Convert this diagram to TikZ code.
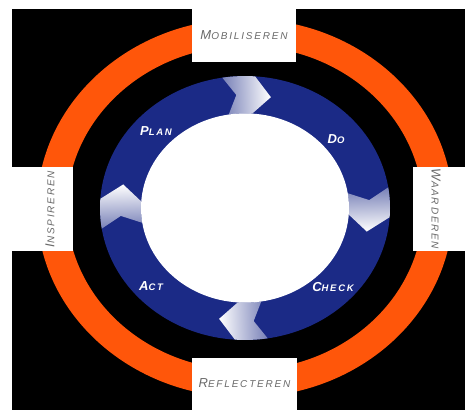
\documentclass[tikz,border=0pt]{standalone}
\usepackage{fontspec}
\setmainfont{Liberation Sans}
\usepackage{tikz}
\usetikzlibrary{positioning}
\definecolor{pdcaBlue}{HTML}{1B2A86}
\definecolor{pdcaOrange}{HTML}{FF560A}
\definecolor{pdcaGrey}{HTML}{6A6A6A}
\newfontfamily\tagfont[LetterSpace=18]{Liberation Sans}
% capital followed by smaller capitals
\newcommand{\capsc}[3][10]{#2{\fontsize{#1}{#1}\selectfont #3}}

\begin{document}
\begin{tikzpicture}[x=1pt, y=1pt,
  tag box/.style={fill=white, draw=none, inner sep=0pt},
  tag text/.style={text=pdcaGrey, font=\tagfont\itshape\fontsize{13}{13}\selectfont, inner sep=0pt},
  phase text/.style={text=white, font=\tagfont\itshape\bfseries\fontsize{13}{13}\selectfont, inner sep=0pt}]

  \useasboundingbox (-245,-202) rectangle (220,208);
  \fill[black] (-233,-202) rectangle (220,199);

  % rings
  \begin{scope}[yscale=0.91]
    \fill[pdcaOrange, even odd rule] (0,0) circle (208) (0,0) circle (178);
    \fill[pdcaBlue] (0,0) circle (145);
    \foreach \c in {92, 2, -88, -178}{
      \shade[top color=white, bottom color=pdcaBlue!60!white, shading angle=\c-180]
        (\c+7:145) -- (\c+2:124.5) -- (\c+7:104)
        arc[start angle=\c+7, end angle=\c-6, radius=104]
        -- (\c-14:124.5) -- (\c-6:145)
        arc[start angle=\c-6, end angle=\c+7, radius=145] -- cycle;
    }
    \fill[white] (0,0) circle (104);
  \end{scope}

  % boxes
  \node[tag box, minimum width=104, minimum height=53] (mobBox) at (-1,172.5) {};
  \node[tag text] (mob) at (mobBox.center) {\capsc{M}{OBILISEREN}};
  \node[tag box, minimum width=61, minimum height=84] (inspBox) at (-202.5,-1) {};
  \node[tag text, rotate=90] (insp) at ([xshift=7.5]inspBox.center) {\capsc{I}{NSPIREREN}};
  \node[tag box, minimum width=52, minimum height=84] (waardBox) at (194,-1) {};
  \node[tag text, rotate=-90] (waard) at ([xshift=-3]waardBox.center) {\capsc{W}{AARDEREN}};
  \node[tag box, minimum width=105, minimum height=52] (reflBox) at (-0.5,-176) {};
  \node[tag text] (refl) at ([yshift=1]reflBox.center) {\capsc{R}{EFLECTEREN}};

  % phases
  \foreach \name/\pos/\first/\rest in {plan/{-89,77}/P/LAN, do/{91,69}/D/O, check/{88,-79}/C/HECK, act/{-94,-78}/A/CT}
    \node[phase text] (\name) at (\pos) {\capsc[9.5]{\first}{\rest}};
\end{tikzpicture}
\end{document}
